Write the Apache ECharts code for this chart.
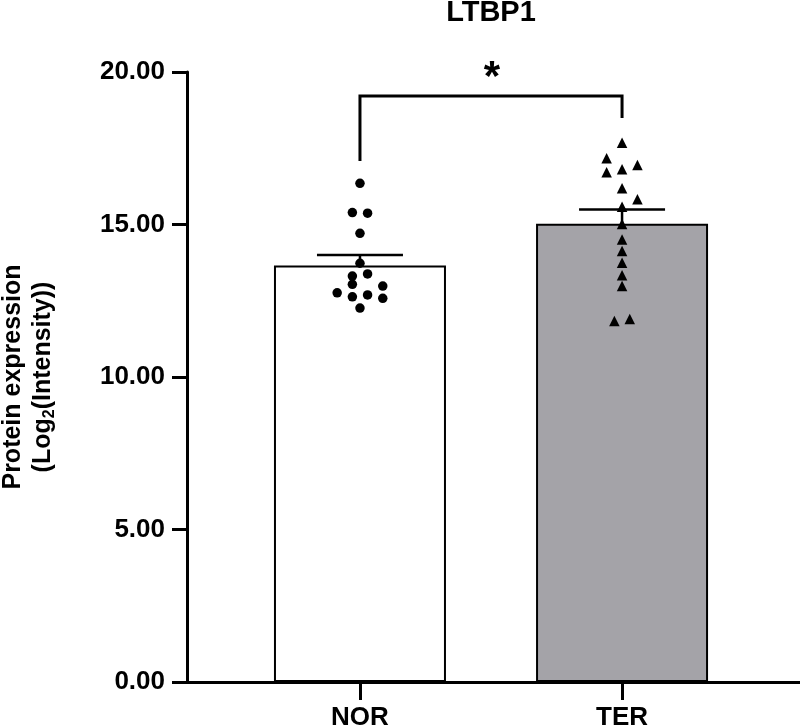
<!DOCTYPE html>
<html>
<head>
<meta charset="utf-8">
<title>LTBP1</title>
<script src="https://cdn.jsdelivr.net/npm/echarts@6/dist/echarts.min.js"></script>
<style>
  html, body { margin: 0; padding: 0; background: #fff; }
  #main { width: 800px; height: 728px; }
</style>
</head>
<body>
<div id="main"></div>
<script>
// groups on the x axis
const categories = ['NOR', 'TER'];
// single samples, log2 intensity
const norValues = [16.35, 15.39, 15.37, 14.71, 13.73, 13.31, 13.38, 13.04, 12.98, 12.76, 12.63, 12.69, 12.58, 12.26];
const terValues = [17.68, 17.17, 16.95, 16.71, 16.81, 16.19, 15.83, 15.58, 15.02, 14.51, 14.13, 13.75, 13.34, 12.98, 11.84, 11.90];
// sideways spread of the dots, in half dot widths
const norJitter = [0, -1, 1, 0, 0, -1, 1, -1, 3, -3, -1, 1, 3, 0];
const terJitter = [0, -2, 2, -2, 0, 0, 2, 0, 0, 0, 0, 0, 0, 0, -1, 1];
const yTicks = [0, 5, 10, 15, 20];
// significance bracket NOR vs TER
const bracketTop = 19.21;
const bracketLegs = [17.08, 18.49];
const starY = 20.05;
const starLabel = '*';

const FONT = 'Liberation Sans, Arial, sans-serif';

function mean(a) {
    return a.reduce((s, v) => s + v, 0) / a.length;
}
function sem(a) {
    const m = mean(a);
    const ss = a.reduce((s, v) => s + (v - m) * (v - m), 0);
    return Math.sqrt(ss / (a.length - 1)) / Math.sqrt(a.length);
}

const groups = [norValues, terValues];
const barData = groups.map((g, i) => ({
    value: [i, mean(g)],
    itemStyle: {color: i === 0 ? '#ffffff' : '#a4a3a8'}
}));
const errData = groups.map((g, i) => [i, mean(g), sem(g)]);

let myChart = echarts.init(document.getElementById('main'));
myChart.setOption({
    animation: false,
    title: {
        text: 'LTBP1',
        left: 491,
        top: -2,
        padding: 0,
        textAlign: 'center',
        textStyle: {fontFamily: FONT, fontSize: 29, fontWeight: 'bold', color: '#000'}
    },
    grid: {left: 187, right: 0, top: 72, bottom: 46, containLabel: false, outerBoundsMode: 'none'},
    xAxis: {
        type: 'value',
        min: -0.66,
        max: 1.679,
        splitLine: {show: false},
        axisLine: {onZero: false, lineStyle: {color: '#000', width: 3}},
        axisTick: {show: true, customValues: [0, 1], length: 18, lineStyle: {color: '#000', width: 3}},
        axisLabel: {
            customValues: [0, 1],
            formatter: v => categories[Math.round(v)],
            margin: 23,
            fontFamily: FONT, fontSize: 26, fontWeight: 'bold', color: '#000'
        }
    },
    yAxis: {
        type: 'value',
        min: yTicks[0],
        max: yTicks[yTicks.length - 1],
        interval: 5,
        splitLine: {show: false},
        axisLine: {show: true, onZero: false, lineStyle: {color: '#000', width: 3}},
        axisTick: {show: true, length: 15, lineStyle: {color: '#000', width: 3}},
        axisLabel: {
            formatter: v => v.toFixed(2),
            margin: 22,
            fontFamily: FONT, fontSize: 26, fontWeight: 'bold', color: '#000'
        },
        name: 'Protein expression\n(Log{sub|2}(Intensity))',
        nameLocation: 'middle',
        nameRotate: 90,
        nameGap: 129,
        nameTextStyle: {
            fontFamily: FONT, fontSize: 25, fontWeight: 'bold', color: '#000', lineHeight: 30,
            rich: {
                sub: {fontFamily: FONT, fontSize: 16, fontWeight: 'bold', color: '#000', verticalAlign: 'bottom', lineHeight: 22}
            }
        }
    },
    series: [
        {
            type: 'bar',
            barWidth: 172,
            data: barData,
            itemStyle: {borderColor: '#000', borderWidth: 2},
            z: 2
        },
        {
            // error bars (mean + SEM, upper only)
            type: 'custom',
            z: 3,
            data: errData,
            renderItem: function (params, api) {
                const x = api.value(0);
                const base = api.coord([x, api.value(1)]);
                const top = api.coord([x, api.value(1) + api.value(2)]);
                const half = 43;
                const style = {stroke: '#000', lineWidth: 2.5};
                return {
                    type: 'group',
                    children: [
                        {type: 'line', shape: {x1: base[0], y1: base[1], x2: top[0], y2: top[1]}, style: style},
                        {type: 'line', shape: {x1: top[0] - half, y1: top[1], x2: top[0] + half, y2: top[1]}, style: style}
                    ]
                };
            }
        },
        {
            type: 'scatter',
            symbol: 'circle',
            symbolSize: 9.5,
            z: 4,
            itemStyle: {color: '#000', opacity: 1},
            data: norValues.map((v, i) => ({value: [0, v], symbolOffset: [norJitter[i] * 7.6, 0]}))
        },
        {
            type: 'scatter',
            symbol: 'triangle',
            symbolSize: 10.5,
            z: 4,
            itemStyle: {color: '#000', opacity: 1},
            data: terValues.map((v, i) => ({value: [1, v], symbolOffset: [terJitter[i] * 7.7, 0]}))
        },
        {
            // significance bracket with star
            type: 'custom',
            z: 5,
            data: [[0, 1, bracketTop, bracketLegs[0], bracketLegs[1], starY]],
            renderItem: function (params, api) {
                const l = api.coord([api.value(0), api.value(2)]);
                const r = api.coord([api.value(1), api.value(2)]);
                const lEnd = api.coord([api.value(0), api.value(3)]);
                const rEnd = api.coord([api.value(1), api.value(4)]);
                const star = api.coord([(api.value(0) + api.value(1)) / 2, api.value(5)]);
                return {
                    type: 'group',
                    children: [
                        {
                            type: 'polyline',
                            shape: {points: [[lEnd[0], lEnd[1]], [l[0], l[1]], [r[0], r[1]], [rEnd[0], rEnd[1]]]},
                            style: {stroke: '#000', lineWidth: 3, fill: null}
                        },
                        {
                            type: 'text',
                            x: star[0] + 1,
                            y: star[1] + 8,
                            style: {
                                text: starLabel, fontFamily: FONT, fontSize: 42, fontWeight: 'bold',
                                fill: '#000', align: 'center', verticalAlign: 'middle'
                            }
                        }
                    ]
                };
            }
        }
    ]
});
</script>
</body>
</html>
